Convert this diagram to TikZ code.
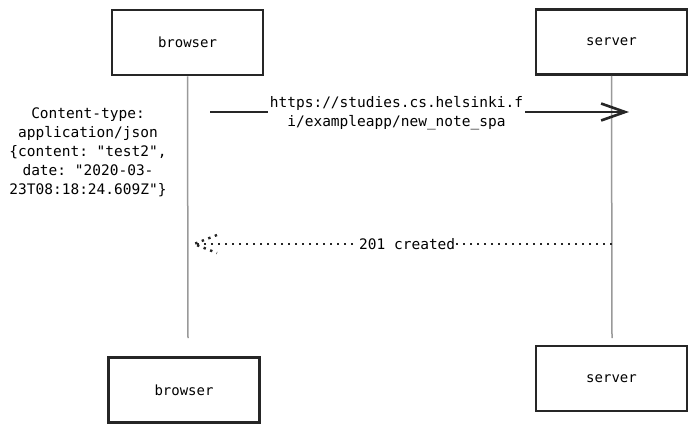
\documentclass[tikz,border=0pt]{standalone}
\usepackage{fontspec}
\setmonofont{DejaVu Sans Mono}
\usetikzlibrary{arrows.meta}
\begin{document}
\begin{tikzpicture}[x=1pt,y=-1pt,
  actor/.style={draw=black!85,line width=2.6pt,fill=white,minimum width=151pt,minimum height=65pt,inner sep=0pt,font=\ttfamily\fontsize{14}{16}\selectfont},
  lifeline/.style={draw=black!40,line width=1.5pt},
  msg/.style={draw=black!85,line width=2.8pt},
  reply/.style={draw=black!85,line width=2.4pt,dash pattern=on 2.4pt off 4.6pt},
  lbl/.style={fill=white,inner sep=2pt,align=center,font=\ttfamily\fontsize{14.5}{19}\selectfont}]
\useasboundingbox (0,0) rectangle (696,432);
\node[actor] (bt) at (187.5,42.5) {browser};
\node[actor] (st) at (611.5,42) {server};
\node[actor,line width=2.2pt] (bb) at (184,390) {browser};
\node[actor,line width=2.2pt] (sb) at (611.5,378.5) {server};
\coordinate (bl) at (188,338);
\coordinate (sl) at (612,338);
\draw[lifeline] (bt.south) -- (bl);
\draw[lifeline] (st.south) -- (sl);
% request
\coordinate (m1s) at (210,112);
\coordinate (m1e) at (629,112);
\draw[msg,-{Straight Barb[length=24pt,width=17pt,line width=2.6pt]}] (m1s) -- (m1e)
  node[lbl,pos=0.445,yshift=-1pt] {https://studies.cs.helsinki.f\\i/exampleapp/new\_note\_spa};
% reply
\coordinate (r1s) at (612,244);
\coordinate (r1e) at (194,244);
\coordinate (rb1) at (217,235);
\coordinate (rb2) at (217,253);
\draw[reply] (r1s) -- (r1e) node[lbl,pos=0.49,inner sep=1pt] {201 created};
\draw[reply] (rb1) -- (r1e) -- (rb2);
% note
\node[lbl,fill=none] (note) at (88,152) {Content-type:\\application/json\\\{content: "test2",\\date: "2020-03-\\23T08:18:24.609Z"\}};
\end{tikzpicture}
\end{document}
